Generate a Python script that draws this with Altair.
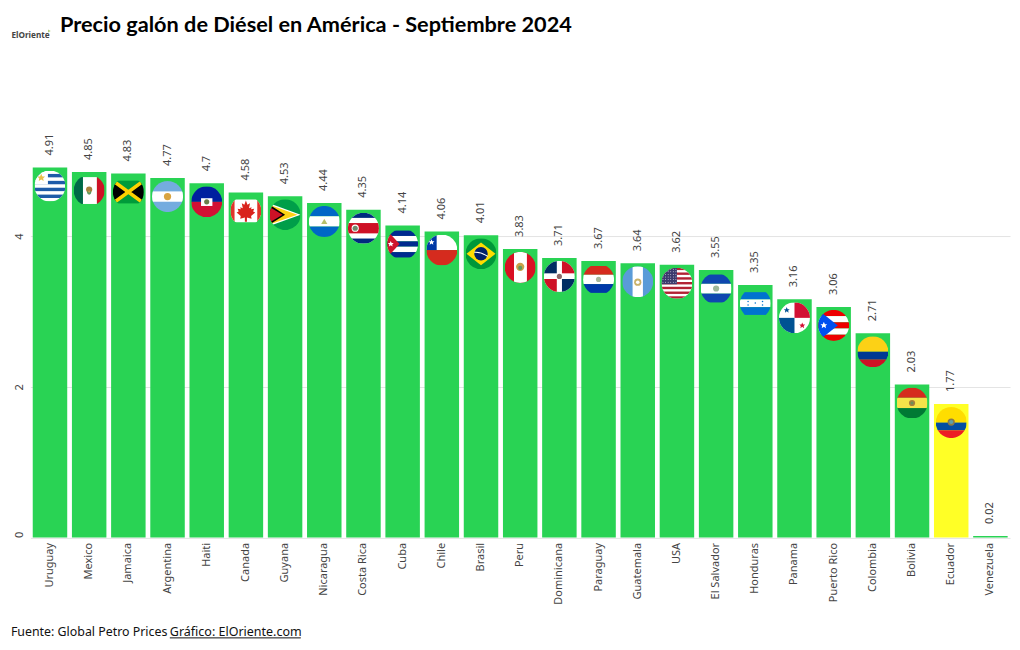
import base64
import altair as alt
import pandas as pd

countries = ["Uruguay","Mexico","Jamaica","Argentina","Haiti","Canada","Guyana","Nicaragua","Costa Rica","Cuba","Chile","Brasil","Peru","Dominicana","Paraguay","Guatemala","USA","El Salvador","Honduras","Panama","Puerto Rico","Colombia","Bolivia","Ecuador","Venezuela"]
prices = [4.91,4.85,4.83,4.77,4.7,4.58,4.53,4.44,4.35,4.14,4.06,4.01,3.83,3.71,3.67,3.64,3.62,3.55,3.35,3.16,3.06,2.71,2.03,1.77,0.02]
highlighted = ["Ecuador"]
tick_values = [0, 2, 4]

TITLE = "Precio galón de Diésel en América - Septiembre 2024"
SOURCE = "Fuente: Global Petro Prices"
CREDIT = "Gráfico: ElOriente.com"
LOGO = "ElOriente"

def r(x, y, w, h, c):
    return f'<rect x="{x}" y="{y}" width="{w}" height="{h}" fill="{c}"/>'
def c(x, y, rad, col):
    return f'<circle cx="{x}" cy="{y}" r="{rad}" fill="{col}"/>'
def p(pts, col):
    return f'<polygon points="{pts}" fill="{col}"/>'
def star(x, y, s, col):
    pts = [(0,-1),(.29,-.31),(.95,-.31),(.47,.12),(.59,.81),(0,.4),(-.59,.81),(-.47,.12),(-.95,-.31),(-.29,-.31)]
    return p(" ".join(f"{x+a*s:.1f},{y+b*s:.1f}" for a, b in pts), col)

leaf = "30,10 33,18 38,15 36,25 41,23 40,27 46,26 44,31 48,33 40,40 41,45 32,43 32,51 28,51 28,43 19,45 20,40 12,33 16,31 14,26 20,27 19,23 24,25 22,15 27,18"
usa_stripes = "".join(r(0, i * 60 / 13, 60, 60 / 13, "#B22234") for i in range(0, 13, 2))
usa_stars = "".join(c(3 + 5 * i, 3 + 5 * j, 0.9, "#fff") for i in range(6) for j in range(6))

flags = {
 "Uruguay": r(0,0,60,60,"#fff") + "".join(r(0,y,60,6.6,"#1E5BA8") for y in (6.6,20,33.3,46.6)) + r(0,0,26,27,"#fff") + star(13,14,8,"#E8C04A"),
 "Mexico": r(0,4,18,52,"#006847") + r(18,4,27,52,"#fff") + r(45,4,15,52,"#CE1126") + c(30,28,6,"#A8803C") + c(30,34,4,"#5E9A5E") + c(30,32,2,"#C9A24A"),
 "Jamaica": r(0,8,60,44,"#009B3A") + p("0,8 30,30 0,52","#000") + p("60,8 30,30 60,52","#000") + '<path d="M0 8L60 52M60 8L0 52" stroke="#FED100" stroke-width="7"/>',
 "Argentina": r(0,0,60,60,"#74ACDF") + r(0,20,60,20,"#fff") + c(30,30,7,"#D9A441"),
 "Haiti": r(0,0,60,30,"#00209F") + r(0,30,60,30,"#D21034") + r(19,23,22,15,"#fff") + c(30,30,5,"#6B7F4A"),
 "Canada": r(0,8,60,44,"#fff") + r(0,8,8,44,"#E0342A") + r(52,8,8,44,"#E0342A") + p(leaf,"#D9231C"),
 "Guyana": r(0,0,60,60,"#009E49") + p("0,8 60,30 0,52","#fff") + p("0,11 54,30 0,49","#FCD116") + p("0,11 30,30 0,49","#000") + p("0,15 25,30 0,45","#CE1126"),
 "Nicaragua": r(0,0,60,20,"#0067C6") + r(0,20,60,20,"#fff") + r(0,40,60,20,"#0067C6") + p("30,25 36,35 24,35","#B8C06A"),
 "Costa Rica": r(0,0,60,60,"#fff") + r(0,0,60,10,"#002B7F") + r(0,20,60,20,"#CE1126") + r(0,50,60,10,"#002B7F") + c(14,30,7,"#fff") + c(14,30,5,"#6E8A6E"),
 "Cuba": "".join(r(0,y,60,52/5,col) for y, col in zip((4,14.4,24.8,35.2,45.6),("#002A8F","#fff","#002A8F","#fff","#002A8F"))) + p("0,4 24,30 0,56","#CF142B") + star(7,30,6,"#fff"),
 "Chile": r(0,0,60,30,"#fff") + r(0,30,60,30,"#D52B1E") + r(0,0,20,30,"#0039A6") + star(10,15,6,"#fff"),
 "Brasil": r(0,0,60,60,"#009739") + p("30,8 58,30 30,52 2,30","#FEDD00") + c(30,30,13,"#012169") + '<path d="M17 27Q30 26 43 35" stroke="#fff" stroke-width="2" fill="none"/>',
 "Peru": r(0,0,60,60,"#D91023") + r(18,0,25,60,"#fff") + c(30,29,8,"#C9A24A") + c(30,31,4,"#5E9A5E"),
 "Dominicana": r(0,0,60,60,"#fff") + r(0,0,25,24,"#002D62") + r(35,0,25,24,"#CE1126") + r(0,35,25,25,"#CE1126") + r(35,35,25,25,"#002D62") + c(30,30,5,"#8A6A6A"),
 "Paraguay": r(0,4,60,17,"#D52B1E") + r(0,21,60,18,"#fff") + r(0,39,60,17,"#0038A8") + c(30,30,5,"#A8B89A"),
 "Guatemala": r(0,0,60,60,"#5A9BD8") + r(20,0,20,60,"#fff") + c(30,31,7,"#C9B26A") + c(30,31,3.5,"#fff"),
 "USA": r(0,0,60,60,"#fff") + usa_stripes + r(0,0,30,32,"#3C3B6E") + usa_stars,
 "El Salvador": r(0,3,60,18,"#0F47AF") + r(0,21,60,19,"#fff") + r(0,40,60,17,"#0F47AF") + c(30,30,6,"#9DB89A"),
 "Honduras": r(0,8,60,14,"#0073CF") + r(0,22,60,15,"#fff") + r(0,37,60,15,"#0073CF") + c(16,26,1.5,"#0073CF") + c(16,33,1.5,"#0073CF") + c(30,29,1.5,"#0073CF") + c(44,26,1.5,"#0073CF") + c(44,33,1.5,"#0073CF"),
 "Panama": r(0,0,60,60,"#fff") + r(30,0,30,30,"#D21034") + r(0,30,30,30,"#005293") + star(15,15,6,"#005293") + star(45,45,6,"#D21034"),
 "Puerto Rico": "".join(r(0,y,60,12,col) for y, col in zip((0,12,24,36,48),("#ED0000","#fff","#ED0000","#fff","#ED0000"))) + p("0,0 38,30 0,60","#0050F0") + star(11,30,7,"#fff"),
 "Colombia": r(0,0,60,30,"#FCD116") + r(0,30,60,15,"#003893") + r(0,45,60,15,"#CE1126"),
 "Bolivia": r(0,0,60,20,"#D52B1E") + r(0,20,60,20,"#F4E34A") + r(0,40,60,20,"#007934") + c(30,30,6,"#A8803C") + c(30,30,3,"#6B8F5A"),
 "Ecuador": r(0,0,60,30,"#FFDD00") + r(0,30,60,15,"#034EA2") + r(0,45,60,15,"#ED1C24") + c(30,29,7,"#8A7A4A") + c(30,29,4,"#5FA0A8"),
}

def uri(country):
    body = flags[country]
    svg = ('<svg xmlns="http://www.w3.org/2000/svg" width="120" height="120" viewBox="0 0 60 60">'
           '<defs><clipPath id="k"><circle cx="30" cy="30" r="30"/></clipPath></defs>'
           f'<g clip-path="url(#k)">{body}</g></svg>')
    return "data:image/svg+xml;base64," + base64.b64encode(svg.encode()).decode()

df = pd.DataFrame({"pais": countries, "precio": prices})
df["grupo"] = ["alto" if n in highlighted else "base" for n in countries]
flag_df = pd.DataFrame({"pais": list(flags), "precio": [prices[countries.index(n)] for n in flags], "img": [uri(n) for n in flags]})

FONT = "Noto Sans"
x = alt.X("pais:N", sort=countries, title=None, scale=alt.Scale(paddingInner=0.12, paddingOuter=0.06),
          axis=alt.Axis(labelAngle=-90, labelFontSize=11, labelFont=FONT, labelColor="#444444", ticks=False,
                        domain=False, labelPadding=5, grid=False, labelLimit=100))
y = alt.Y("precio:Q", title=None, scale=alt.Scale(domain=[0, 5.5], nice=False),
          axis=alt.Axis(values=tick_values, labelAngle=-90, labelFontSize=11, labelFont=FONT, labelColor="#444444",
                        ticks=False, domain=False, labelPadding=6, gridColor="#e4e4e4", format="d",
                        labelAlign=alt.expr("datum.value === 0 ? 'left' : 'center'")))

bars = alt.Chart(df).mark_bar().encode(
    x=x, y=y,
    color=alt.Color("grupo:N", legend=None, scale=alt.Scale(domain=["base", "alto"], range=["#29D354", "#FFFF26"])))
labels = alt.Chart(df).mark_text(angle=270, align="left", baseline="middle", dx=12, font=FONT, fontSize=11, color="#444444").encode(
    x=alt.X("pais:N", sort=countries), y=alt.Y("precio:Q"), text=alt.Text("precio:Q"))
images = alt.Chart(flag_df).mark_image(width=31, height=31, align="center", baseline="top", yOffset=3).encode(
    x=alt.X("pais:N", sort=countries), y=alt.Y("precio:Q"), url="img:N")

def note(text, px, py, size, weight="normal", color="#111111", font=FONT):
    return alt.Chart(pd.DataFrame({"t": [text]})).mark_text(
        align="left", baseline="alphabetic", font=font, fontSize=size, fontWeight=weight, color=color
    ).encode(x=alt.value(px), y=alt.value(py), text="t:N")

title = note(TITLE, 29.6, -91, 21.7, "bold", "#000000", "Lato")
logo = note(LOGO, -19, -85, 8.2, "bold", "#444444")
leaf_mark = alt.Chart(pd.DataFrame({"t": [0]})).mark_point(shape="triangle-right", filled=True, size=9, color="#8DB83C").encode(
    x=alt.value(19), y=alt.value(-92))
source = note(SOURCE, -19.5, 513, 12.4)
credit = note(CREDIT, 139.5, 513, 12.5)
underline = alt.Chart(pd.DataFrame({"t": [0]})).mark_rule(color="#111111", strokeWidth=1).encode(
    x=alt.value(139.5), x2=alt.value(270.5), y=alt.value(515))

chart = alt.layer(bars, labels, images, title, logo, leaf_mark, source, credit, underline).properties(
    width=980, height=414.5,
    autosize=alt.AutoSizeParams(type="none"),
    padding={"left": 22.4, "top": 115, "right": 2, "bottom": 110},
).configure_view(stroke=None)

chart.save("out.html", embed_options={"renderer": "svg", "actions": False})
